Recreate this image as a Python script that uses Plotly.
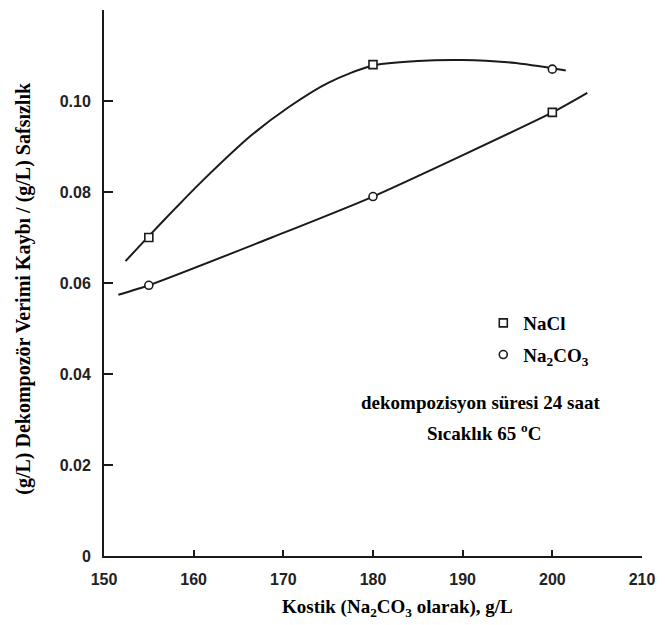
import plotly.graph_objects as go

# Axis ticks
x_ticks = [150, 160, 170, 180, 190, 200, 210]
y_ticks = [0, 0.02, 0.04, 0.06, 0.08, 0.10]
y_tick_labels = ["0", "0.02", "0.04", "0.06", "0.08", "0.10"]

meas_x = [155, 180, 200]
nacl_y = [0.070, 0.108, 0.107]
na2co3_y = [0.0595, 0.079, 0.0975]
nacl_symbols = ["square", "square", "circle"]
na2co3_symbols = ["circle", "circle", "square"]

# Hand-drawn fitted curves
nacl_curve_x = [152.4, 155, 158, 161, 166.4, 170.7, 175, 180, 185, 190, 195, 200, 201.5]
nacl_curve_y = [0.0648, 0.0703, 0.0765, 0.0825, 0.0924, 0.0988, 0.1040, 0.1078, 0.1088, 0.1090, 0.1085, 0.1072, 0.1067]
na2co3_curve_x = [151.6, 155, 168.7, 180, 200, 203.9]
na2co3_curve_y = [0.0574, 0.0595, 0.070, 0.079, 0.0975, 0.1018]

INK = "#1a1a1a"
SERIF = "Liberation Serif, Times New Roman, serif"
SANS = "Liberation Sans, Arial, sans-serif"

fig = go.Figure()
fig.add_trace(go.Scatter(x=nacl_curve_x, y=nacl_curve_y, mode="lines",
                         line=dict(color=INK, width=2, shape="spline", smoothing=0.8),
                         showlegend=False, hoverinfo="skip"))
fig.add_trace(go.Scatter(x=na2co3_curve_x, y=na2co3_curve_y, mode="lines",
                         line=dict(color=INK, width=2, shape="spline", smoothing=0.6),
                         showlegend=False, hoverinfo="skip"))
fig.add_trace(go.Scatter(x=meas_x, y=nacl_y, mode="markers", name="NaCl",
                         legendgroup="a",
                         marker=dict(symbol=nacl_symbols, size=8, color="white",
                                     line=dict(color=INK, width=1.6))))
fig.add_trace(go.Scatter(x=meas_x, y=na2co3_y, mode="markers", name="Na<sub>2</sub>CO<sub>3</sub>",
                         legendgroup="b",
                         marker=dict(symbol=na2co3_symbols, size=8, color="white",
                                     line=dict(color=INK, width=1.6))))

fig.update_layout(
    width=665, height=625,
    margin=dict(l=104, r=18, t=10, b=69),
    paper_bgcolor="white", plot_bgcolor="white",
    showlegend=True,
    legend=dict(x=0.705, y=0.4615, xanchor="left", yanchor="top",
                bgcolor="rgba(0,0,0,0)", borderwidth=0,
                traceorder="grouped", tracegroupgap=4,
                font=dict(family=SERIF, size=19, color="black", weight="bold")),
    xaxis=dict(range=[150, 210], tickvals=x_ticks, showline=True, linecolor=INK, linewidth=2,
               ticks="inside", ticklen=6, tickwidth=1.5, tickcolor=INK, showgrid=False, zeroline=False,
               ticklabelstandoff=8,
               tickfont=dict(family=SANS, size=16, color="#222", weight="bold")),
    yaxis=dict(range=[0, 0.12], tickvals=y_ticks, ticktext=y_tick_labels, showline=True,
               linecolor=INK, linewidth=2, ticks="inside", ticklen=9, tickwidth=1.5, tickcolor=INK,
               showgrid=False, zeroline=False, ticklabelstandoff=8,
               tickfont=dict(family=SANS, size=16, color="#222", weight="bold")),
    annotations=[
        dict(text="(g/L) Dekompozör Verimi Kaybı / (g/L) Safsızlık", xref="paper", yref="paper",
             x=-0.149, y=0.491, textangle=-90, showarrow=False, xanchor="center", yanchor="middle",
             font=dict(family=SERIF, size=20, color="black", weight="bold")),
        dict(text="Kostik (Na<sub>2</sub>CO<sub>3</sub> olarak), g/L", xref="paper", yref="paper",
             x=0.545, y=-0.095, showarrow=False, xanchor="center", yanchor="middle",
             font=dict(family=SERIF, size=19, color="black", weight="bold")),
        dict(text="dekompozisyon süresi 24 saat", xref="paper", yref="paper",
             x=0.70, y=0.282, showarrow=False, xanchor="center", yanchor="middle",
             font=dict(family=SERIF, size=19, color="black", weight="bold")),
        dict(text="Sıcaklık 65 <sup>o</sup>C", xref="paper", yref="paper",
             x=0.706, y=0.227, showarrow=False, xanchor="center", yanchor="middle",
             font=dict(family=SERIF, size=19, color="black", weight="bold")),
    ],
)

fig.write_html("out.html")
